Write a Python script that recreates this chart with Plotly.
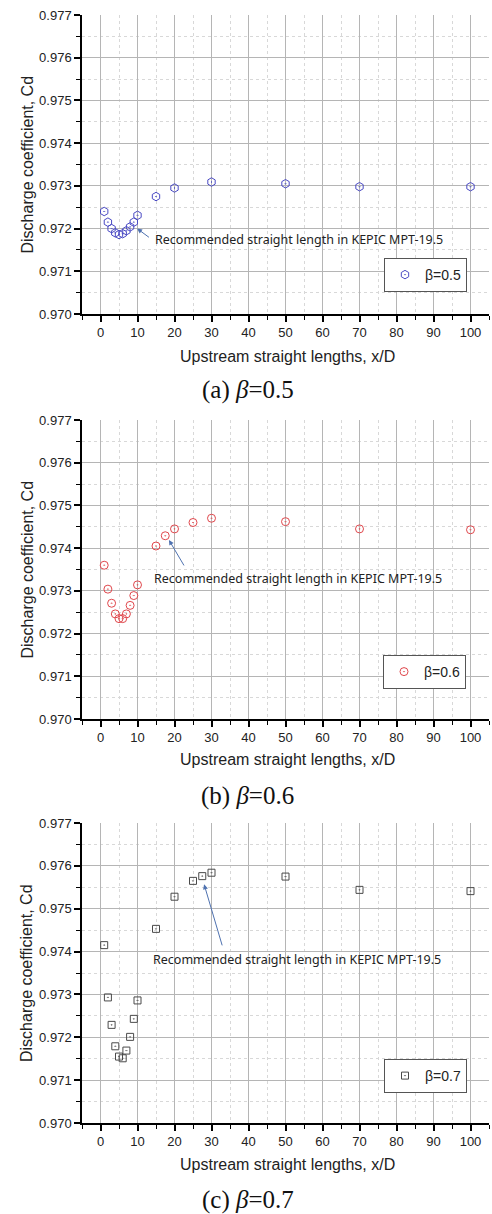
import plotly.graph_objects as go

# ---------------- data ----------------
x_a = [1, 2, 3, 4, 5, 6, 7, 8, 9, 10, 15, 20, 30, 50, 70, 100]
cd_a = [0.97240, 0.97215, 0.97200, 0.97190, 0.97186, 0.97188, 0.97195, 0.97204,
        0.97215, 0.97231, 0.97275, 0.97295, 0.97309, 0.97305, 0.97298, 0.97298]

x_b = [1, 2, 3, 4, 5, 6, 7, 8, 9, 10, 15, 17.5, 20, 25, 30, 50, 70, 100]
cd_b = [0.97360, 0.97304, 0.97271, 0.97246, 0.97235, 0.97235, 0.97246, 0.97266,
        0.97289, 0.97314, 0.97405, 0.97429, 0.97445, 0.97460, 0.97470, 0.97462,
        0.97445, 0.97443]

x_c = [1, 2, 3, 4, 5, 6, 7, 8, 9, 10, 15, 20, 25, 27.5, 30, 50, 70, 100]
cd_c = [0.97415, 0.97293, 0.97229, 0.97179, 0.97155, 0.97151, 0.97169, 0.97201,
        0.97243, 0.97286, 0.97453, 0.97528, 0.97565, 0.97576, 0.97584, 0.97575,
        0.97544, 0.97541]

series_names = ["β=0.5", "β=0.6", "β=0.7"]
captions = ["(a) <i>β</i>=0.5", "(b) <i>β</i>=0.6", "(c) <i>β</i>=0.7"]
note_text = "Recommended straight length in KEPIC MPT-19.5"
x_title = "Upstream straight lengths, x/D"
y_title = "Discharge coefficient, Cd"

# ---------------- layout geometry (pixels) ----------------
W, H = 492, 1214
px_left, px_right = 82, 489
panels_px = [(15, 314), (420, 719), (823, 1123)]   # top, bottom of plot areas


def py(p):
    return 1 - p / H


fig = go.Figure()

styles = [
    dict(symbol="hexagon-open-dot", color="#4a4ac4", size=8.5),
    dict(symbol="circle-open-dot", color="#e0474c", size=8),
    dict(symbol="square-open-dot", color="#4a4a4a", size=7),
]
datasets = [(x_a, cd_a), (x_b, cd_b), (x_c, cd_c)]
legend_pos = [(384, 258), (383, 655), (384, 1059)]
legend_ids = ["legend", "legend2", "legend3"]

for i, ((xs, ys), st) in enumerate(zip(datasets, styles)):
    sfx = "" if i == 0 else str(i + 1)
    fig.add_trace(go.Scatter(
        x=xs, y=ys, mode="markers", name=series_names[i],
        marker=dict(symbol=st["symbol"], size=st["size"], color=st["color"],
                    line=dict(width=1, color=st["color"])),
        xaxis="x" + sfx, yaxis="y" + sfx, legend=legend_ids[i],
        showlegend=True,
    ))

tickfont = dict(family="Liberation Sans", size=13, color="#222")
axis_common_x = dict(
    range=[-5, 105], tick0=0, dtick=10, ticks="outside", ticklen=6,
    tickwidth=1.5, tickcolor="black", showline=True, linecolor="black",
    linewidth=1.5, showgrid=True, gridcolor="#b5b5b5", gridwidth=1,
    zeroline=False, automargin=False, tickfont=tickfont,
    minor=dict(dtick=5, tick0=0, ticks="outside", ticklen=4, tickwidth=1.2,
               tickcolor="black", showgrid=True, gridcolor="#d8d8d8",
               griddash="dot", gridwidth=1),
)
axis_common_y = dict(
    range=[0.970, 0.977], tick0=0.970, dtick=0.001, tickformat=".3f",
    ticks="outside", ticklen=6, tickwidth=1.5, tickcolor="black",
    showline=True, linecolor="black", linewidth=1.5, showgrid=True,
    gridcolor="#b5b5b5", gridwidth=1, zeroline=False, automargin=False,
    tickfont=tickfont,
    minor=dict(dtick=0.0005, tick0=0.970, ticks="outside", ticklen=4,
               tickwidth=1.2, tickcolor="black", showgrid=True,
               gridcolor="#d8d8d8", griddash="dot", gridwidth=1),
)

layout = dict(
    width=W, height=H,
    margin=dict(l=0, r=0, t=0, b=0, pad=0, autoexpand=False),
    paper_bgcolor="white", plot_bgcolor="white", showlegend=True,
    font=dict(family="Liberation Sans", color="#222"),
)

for i, (top, bot) in enumerate(panels_px):
    sfx = "" if i == 0 else str(i + 1)
    xa = dict(axis_common_x, domain=[px_left / W, px_right / W], anchor="y" + sfx)
    ya = dict(axis_common_y, domain=[py(bot), py(top)], anchor="x" + sfx)
    layout["xaxis" + sfx] = xa
    layout["yaxis" + sfx] = ya
    lx, ly = legend_pos[i]
    layout[legend_ids[i]] = dict(
        x=lx / W, y=py(ly), xanchor="left", yanchor="top",
        bgcolor="white", bordercolor="#555555", borderwidth=1,
        font=dict(family="Liberation Sans", size=14, color="#222"),
    )

fig.update_layout(**layout)

annotations = []
ytitle_x = 27
xtitle_px = [356, 759, 1164]
caption_px = [390, 796, 1200]
for i, (top, bot) in enumerate(panels_px):
    annotations.append(dict(
        text=y_title, xref="paper", yref="paper", x=ytitle_x / W,
        y=py((top + bot) / 2), showarrow=False, textangle=-90,
        font=dict(family="Liberation Sans", size=16, color="#222"),
        xanchor="center", yanchor="middle"))
    annotations.append(dict(
        text=x_title, xref="paper", yref="paper", x=287 / W,
        y=py(xtitle_px[i]), showarrow=False,
        font=dict(family="Liberation Sans", size=16, color="#222"),
        xanchor="center", yanchor="middle"))
    annotations.append(dict(
        text=captions[i], xref="paper", yref="paper", x=248 / W,
        y=py(caption_px[i]), showarrow=False,
        font=dict(family="Liberation Serif", size=25, color="#111"),
        xanchor="center", yanchor="middle"))

# recommended-length notes: (text x, text y, head x, head y, tail x, tail y)
notes = [
    (14.2, 0.97175, 9.9, 0.97200, 13.5, 0.97177),
    (14.0, 0.97328, 18.5, 0.97419, 22.8, 0.97356),
    (13.6, 0.97382, 28.0, 0.97557, 33.0, 0.97411),
]
for i, (tx, ty, hx, hy, ax_, ay_) in enumerate(notes):
    sfx = "" if i == 0 else str(i + 1)
    annotations.append(dict(
        text=note_text, xref="x" + sfx, yref="y" + sfx, x=tx, y=ty,
        showarrow=False, xanchor="left", yanchor="middle",
        font=dict(family="Noto Sans", size=12.5, color="#222")))
    annotations.append(dict(
        text="", xref="x" + sfx, yref="y" + sfx, x=hx, y=hy,
        axref="x" + sfx, ayref="y" + sfx, ax=ax_, ay=ay_,
        showarrow=True, arrowhead=2, arrowsize=1, arrowwidth=1,
        arrowcolor="#4f72b0", standoff=0, startstandoff=0))

fig.update_layout(annotations=annotations)

fig.write_html(
    "out.html",
    config={"displayModeBar": False},
    post_script="document.body.style.margin='0';document.body.style.overflow='hidden';",
)
